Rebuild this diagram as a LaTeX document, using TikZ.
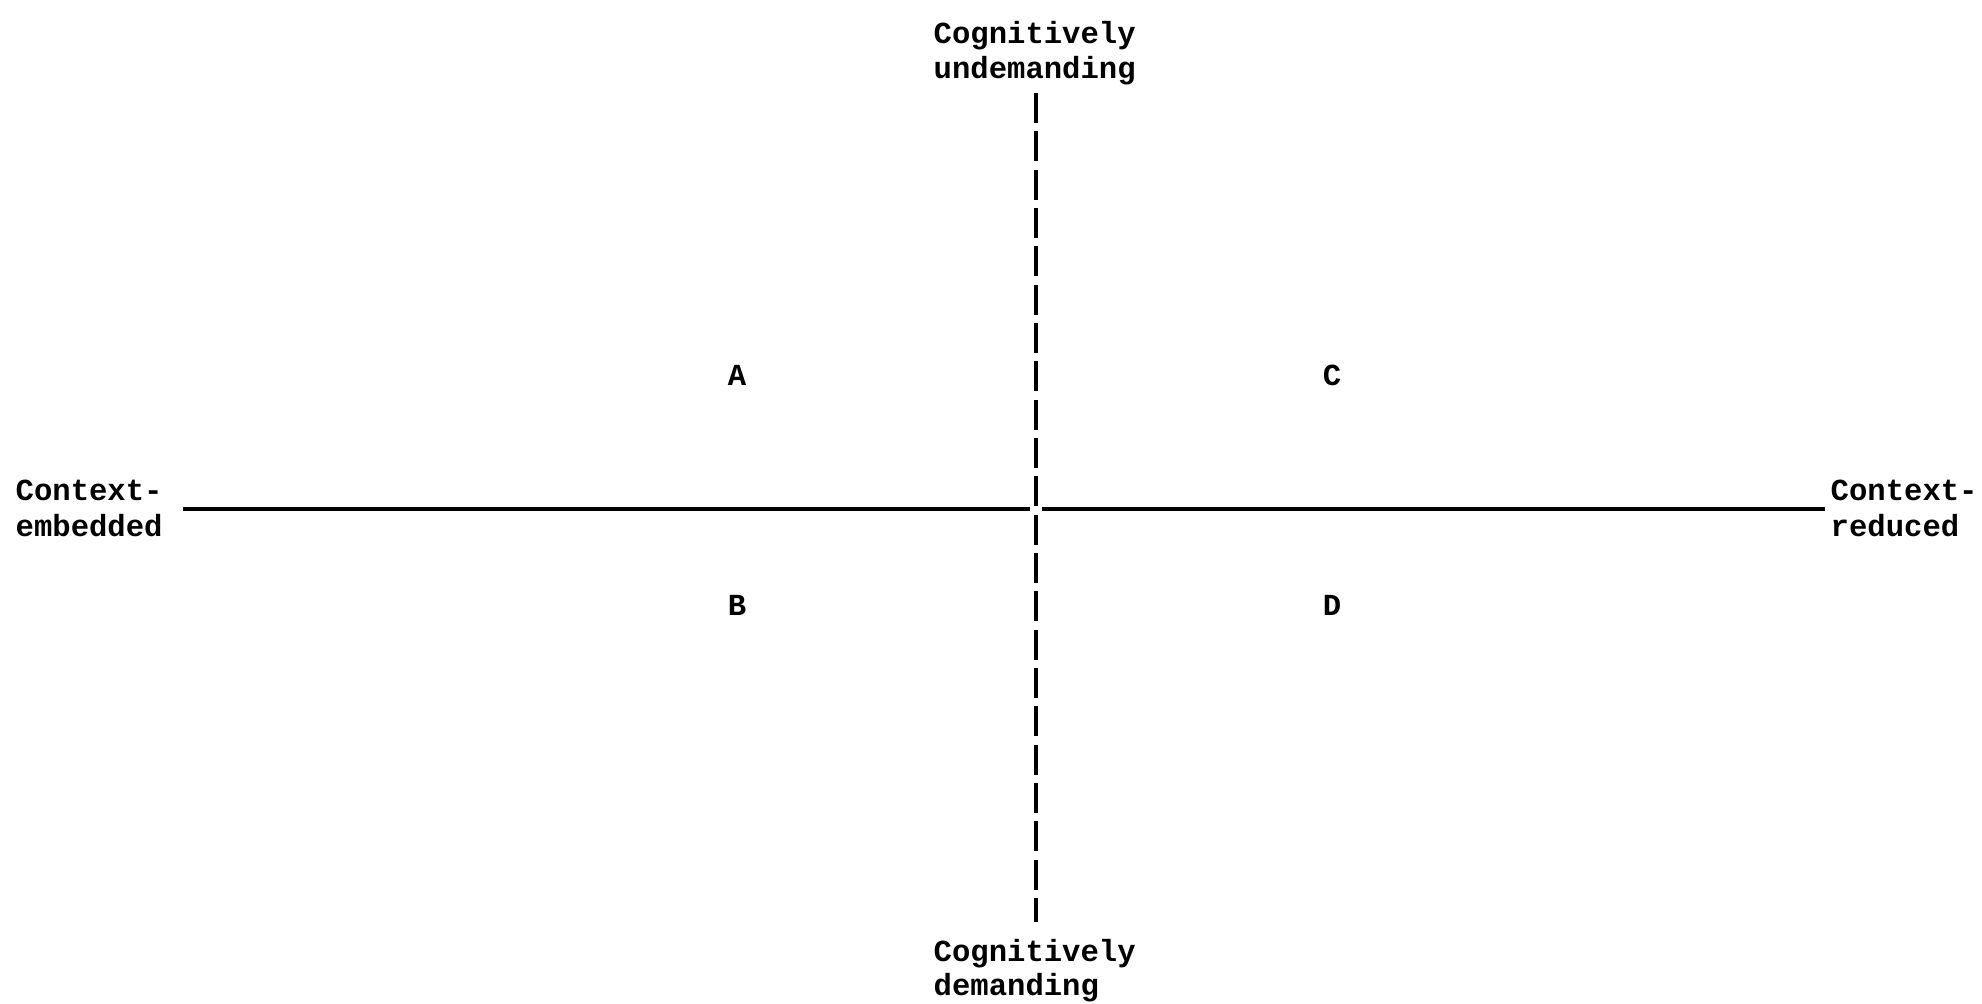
\documentclass[tikz,border=0pt]{standalone}
\usepackage{fontspec}
\setmonofont{Liberation Mono}
\begin{document}
\begin{tikzpicture}[x=0.01cm,y=-0.01cm,
  lbl/.style={font=\ttfamily\bfseries\fontsize{8.7}{10}\selectfont, inner sep=0pt, anchor=base west},
  letter/.style={font=\ttfamily\bfseries\fontsize{8.7}{10}\selectfont, inner sep=0pt, anchor=base},
  axisline/.style={line width=1pt},
  vaxis/.style={line width=1pt, dash pattern=on 8.5pt off 2.4pt}]
\useasboundingbox (0,0) rectangle (1982,1003);
\node[lbl] (cu1) at (933,43) {Cognitively};
\node[lbl] (cu2) at (933,78) {undemanding};
\node[lbl] (cd1) at (933,961) {Cognitively};
\node[lbl] (cd2) at (933,995) {demanding};
\node[lbl] (ce1) at (15,500) {Context-};
\node[lbl] (ce2) at (15,536) {embedded};
\node[lbl] (cr1) at (1830,500) {Context-};
\node[lbl] (cr2) at (1830,536) {reduced};
\node[letter] (A) at (737,385) {A};
\node[letter] (B) at (737,615) {B};
\node[letter] (C) at (1332,385) {C};
\node[letter] (D) at (1332,615) {D};
\coordinate (vt) at (1036,93);
\coordinate (vb) at (1036,922);
\coordinate (hl) at (183,509);
\coordinate (hc1) at (1030,509);
\coordinate (hc2) at (1042,509);
\coordinate (hr) at (1825,509);
\draw[vaxis] (vt) -- (vb);
\draw[axisline] (hl) -- (hc1);
\draw[axisline] (hc2) -- (hr);
\end{tikzpicture}
\end{document}
